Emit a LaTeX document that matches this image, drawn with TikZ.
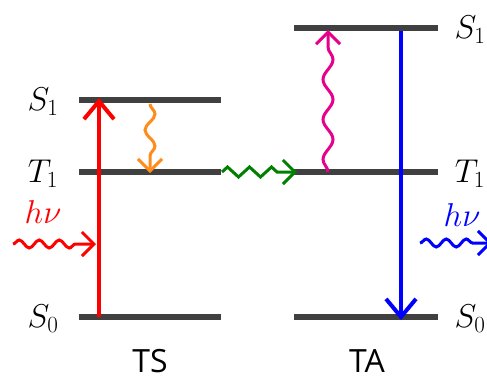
\documentclass[tikz,border=0pt]{standalone}
\usepackage{fix-cm}
\usepackage{fontspec}
\setsansfont{Open Sans}
\usetikzlibrary{arrows.meta,decorations.pathmorphing}
\definecolor{levelgray}{HTML}{404040}
\definecolor{relaxorange}{HTML}{FF8C1A}
\definecolor{tetgreen}{HTML}{008000}
\definecolor{upcpink}{HTML}{E6008C}
\tikzset{
  level/.style={line width=6pt, levelgray},
  statelbl/.style={font=\fontsize{33}{37}\selectfont},
  sidelbl/.style={font=\sffamily\fontsize{32}{36}\selectfont, inner sep=0pt},
  radiative/.style={line width=4pt, -{Straight Barb[length=18pt,width=30pt,line width=4pt]}},
  wavy/.style={line width=3pt, decorate,
    decoration={snake, amplitude=4pt, segment length=20pt, post length=14pt},
    -{Straight Barb[length=12pt,width=24pt,line width=3pt]}}
}
\begin{document}
\begin{tikzpicture}[x=1pt,y=-1pt]
\useasboundingbox (0,0) rectangle (487,381);
% energy levels, left (TS)
\coordinate (S1L) at (79,100);
\coordinate (S1R) at (221,100);
\coordinate (T1L) at (79,172);
\coordinate (T1R) at (221,172);
\coordinate (S0L) at (79,317);
\coordinate (S0R) at (221,317);
% energy levels, right (TA)
\coordinate (AS1L) at (294,28);
\coordinate (AS1R) at (438,28);
\coordinate (AT1L) at (294,172);
\coordinate (AT1R) at (438,172);
\coordinate (AS0L) at (294,317);
\coordinate (AS0R) at (438,317);
\draw[level] (S1L) -- (S1R);
\draw[level] (T1L) -- (T1R);
\draw[level] (S0L) -- (S0R);
\draw[level] (AS1L) -- (AS1R);
\draw[level] (AT1L) -- (AT1R);
\draw[level] (AS0L) -- (AS0R);
% labels
\node[statelbl] (lS1) at (43,102) {$S_1$};
\node[statelbl] (lT1) at (43,174) {$T_1$};
\node[statelbl] (lS0) at (43,319) {$S_0$};
\node[statelbl] (rS1) at (470,30) {$S_1$};
\node[statelbl] (rT1) at (470,174) {$T_1$};
\node[statelbl] (rS0) at (470,319) {$S_0$};
\node[sidelbl] (TS) at (150,361) {TS};
\node[sidelbl] (TA) at (367,361) {TA};
% absorption
\coordinate (absA) at (99,317);
\coordinate (absB) at (99,98);
\draw[radiative, red] (absA) -- (absB);
\coordinate (inA) at (13,244);
\coordinate (inB) at (96,244);
\draw[wavy, red] (inA) -- (inB);
\node[statelbl, red] (hvin) at (43,212) {$h\nu$};
% intersystem crossing
\coordinate (iscA) at (150,104);
\coordinate (iscB) at (150,173);
\draw[wavy, relaxorange, decoration={snake, amplitude=5pt, segment length=32pt, post length=14pt}] (iscA) -- (iscB);
% triplet energy transfer
\coordinate (tetA) at (222,172);
\coordinate (tetB) at (297,172);
\draw[wavy, tetgreen, decoration={zigzag, amplitude=5pt, segment length=22pt, post length=12pt}] (tetA) -- (tetB);
% upconversion
\coordinate (upA) at (328,172);
\coordinate (upB) at (328,30);
\draw[wavy, upcpink, decoration={snake, amplitude=5pt, segment length=40pt, post length=14pt}] (upA) -- (upB);
% emission
\coordinate (emA) at (401,31);
\coordinate (emB) at (401,320);
\draw[radiative, blue] (emA) -- (emB);
\coordinate (outA) at (420,243);
\coordinate (outB) at (492,243);
\draw[wavy, blue] (outA) -- (outB);
\node[statelbl, blue] (hvout) at (462,215) {$h\nu$};
\end{tikzpicture}
\end{document}
